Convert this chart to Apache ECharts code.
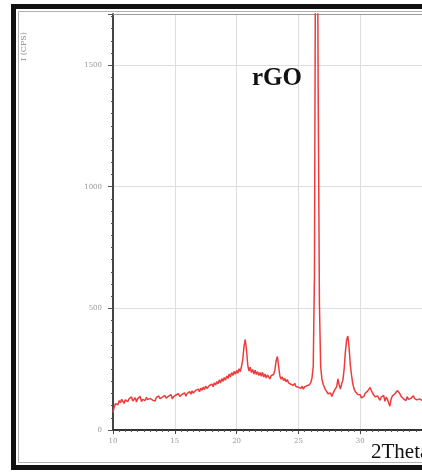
<!DOCTYPE html>
<html>
<head>
<meta charset="utf-8">
<script src="https://cdn.jsdelivr.net/npm/echarts@6/dist/echarts.min.js"></script>
<style>
html,body{margin:0;padding:0;background:#fff;}
#chart{width:422px;height:474px;}
</style>
</head>
<body>
<div id="chart"></div>
<script>
// 2Theta (degrees), step 0.1 from 10.0
const twoThetaStart = 10.0;
const twoThetaStep = 0.1;
// Intensity (CPS)
const intensity = [
  72, 95, 108, 116, 104, 121, 112, 126, 118, 109,
  124, 131, 117, 128, 122, 136, 119, 127, 133, 115,
  129, 122, 138, 117, 126, 131, 121, 134, 125, 118,
  130, 137, 123, 128, 119, 133, 126, 140, 129, 124,
  135, 128, 142, 131, 126, 139, 133, 145, 128, 137,
  131, 144, 136, 149, 138, 132, 147, 141, 153, 139,
  150, 144, 158, 147, 161, 152, 146, 163, 155, 168,
  157, 172, 163, 176, 166, 181, 171, 164, 183, 175,
  189, 178, 194, 185, 199, 190, 206, 193, 211, 200,
  216, 205, 222, 212, 230, 218, 236, 224, 241, 229,
  245, 233, 252, 240, 262, 290, 345, 372, 330, 268,
  242, 258, 236, 249, 230, 246, 228, 240, 224, 236,
  221, 237, 218, 230, 214, 226, 232, 210, 224, 216,
  228, 248, 285, 302, 262, 222, 209, 218, 203, 212,
  198, 207, 194, 201, 188, 196, 183, 192, 179, 187,
  176, 184, 171, 180, 168, 177, 170, 182, 174, 186,
  195, 214, 260, 640, 2300, 2600, 1400, 520, 262, 210,
  188, 176, 165, 158, 149, 143, 152, 138, 146, 162,
  162, 178, 210, 185, 168, 190, 205, 250, 320, 370,
  386, 340, 268, 225, 190, 170, 158, 150, 146, 138,
  145, 132, 124, 138, 151, 146, 160, 168, 175, 162,
  152, 144, 136, 128, 140, 131, 122, 135, 127, 142,
  118, 135, 126, 112, 98, 126, 140, 132, 148, 155,
  162, 168, 150, 139, 147, 128, 133, 121, 137, 126,
  118, 130, 125, 141, 129, 136, 124, 132, 128, 135,
  122, 130, 126, 133, 120
];
const xTicks = [10, 15, 20, 25, 30, 35];
const yTicks = [0, 500, 1000, 1500];
const sampleLabel = 'rGO';
const xName = '2Theta';
const yName = 'I (CPS)';

const seriesData = intensity.map((v, i) => [+(twoThetaStart + i * twoThetaStep).toFixed(1), v]);

const chart = echarts.init(document.getElementById('chart'), null, {renderer: 'canvas'});
chart.setOption({
  backgroundColor: '#ffffff',
  animation: false,
  grid: {left: 113, top: 14, right: 0, height: 416, show: false},
  xAxis: [{
    type: 'value', min: xTicks[0], max: xTicks[xTicks.length - 1], interval: 5,
    axisLine: {show: true, onZero: false, lineStyle: {color: '#333', width: 2}},
    axisTick: {show: true, length: 4, lineStyle: {color: '#444'}},
    minorTick: {show: true, splitNumber: 10, length: 2, lineStyle: {color: '#555'}},
    axisLabel: {fontSize: 7, color: '#999', margin: 8, fontFamily: 'DejaVu Serif', showMaxLabel: false, formatter: v => String(v)},
    splitLine: {show: true, lineStyle: {color: '#dedede', width: 1}}
  }, {
    type: 'value', position: 'top', min: xTicks[0], max: xTicks[xTicks.length - 1],
    axisLine: {show: true, onZero: false, lineStyle: {color: '#9a9a9a', width: 1}},
    axisTick: {show: false}, axisLabel: {show: false}, splitLine: {show: false}
  }],
  yAxis: {
    type: 'value', min: yTicks[0], max: 1710, interval: 500,
    axisLine: {show: true, lineStyle: {color: '#444', width: 2}},
    axisTick: {show: true, length: 5, lineStyle: {color: '#555'}},
    minorTick: {show: true, splitNumber: 10, length: 2, lineStyle: {color: '#555'}},
    axisLabel: {fontSize: 7, color: '#999', margin: 11, fontFamily: 'DejaVu Serif', showMaxLabel: false, formatter: v => String(v)},
    splitLine: {show: true, lineStyle: {color: '#dedede', width: 1}}
  },
  series: [{
    type: 'line',
    xAxisIndex: 0,
    data: seriesData,
    showSymbol: false,
    symbol: 'none',
    clip: true,
    lineStyle: {color: '#ee3c3c', width: 1.5}
  }],
  graphic: [
    {type: 'rect', shape: {x: 13.5, y: 6.5, width: 600, height: 461}, style: {fill: 'none', stroke: '#111', lineWidth: 5}, z: 100},
    {type: 'rect', shape: {x: 18.5, y: 11.5, width: 600, height: 451}, style: {fill: 'none', stroke: '#b0b0b0', lineWidth: 1}, z: 100},
    {type: 'text', left: 252, top: 66, style: {text: sampleLabel, font: 'bold 25px "Liberation Serif", "Times New Roman", serif', fill: '#111'}, z: 100},
    {type: 'text', left: 371, top: 442, style: {text: xName, font: '21px "Liberation Serif", "Times New Roman", serif', fill: '#111'}, z: 100},
    {type: 'text', x: 24, y: 61, rotation: Math.PI / 2, style: {text: yName, font: '8px "DejaVu Serif", serif', fill: '#888', textAlign: 'left', textVerticalAlign: 'middle'}, z: 100}
  ]
});
</script>
</body>
</html>
